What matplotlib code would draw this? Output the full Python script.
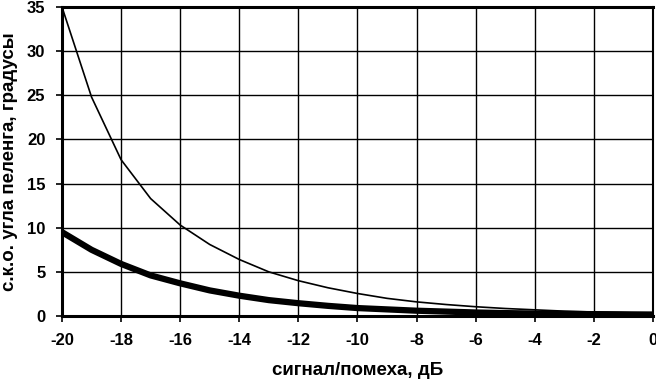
import matplotlib
matplotlib.use("Agg")
import matplotlib.pyplot as plt

plt.rcParams['font.family'] = ['Liberation Sans', 'DejaVu Sans']
plt.rcParams['font.weight'] = 'bold'
plt.rcParams['axes.unicode_minus'] = False

snr_db = [-20, -19, -18, -17, -16, -15, -14, -13, -12, -11, -10,
          -9, -8, -7, -6, -5, -4, -3, -2, -1, 0]
# thin curve
err_thin = [35.0, 24.8, 17.7, 13.3, 10.3, 8.1, 6.4, 5.0, 4.0, 3.2, 2.55,
            2.0, 1.6, 1.3, 1.05, 0.85, 0.7, 0.55, 0.45, 0.38, 0.3]
# thick curve
err_thick = [9.5, 7.5, 5.9, 4.6, 3.7, 2.9, 2.3, 1.8, 1.45, 1.15, 0.9,
             0.75, 0.6, 0.5, 0.4, 0.33, 0.28, 0.24, 0.21, 0.19, 0.17]

fig = plt.figure(figsize=(6.56, 3.8), dpi=100)
ax = fig.add_axes([0.0945, 0.1684, 0.9009, 0.8132])

ax.plot(snr_db, err_thin, color='black', lw=1.2, zorder=3)
ax.plot(snr_db, err_thick, color='black', lw=4.5, zorder=3)

ax.set_xlim(-20, 0)
ax.set_ylim(0, 35)
ax.set_xticks(range(-20, 1, 2))
ax.set_yticks(range(0, 36, 5))
ax.grid(True, color='black', lw=1.0)
ax.tick_params(direction='out', length=4, width=1.2, labelsize=12, pad=8)
for lab in ax.get_xticklabels() + ax.get_yticklabels():
    lab.set_fontweight('bold')

ax.spines['left'].set_linewidth(2.2)
ax.spines['bottom'].set_linewidth(2.2)
ax.spines['top'].set_linewidth(2.2)
ax.spines['right'].set_linewidth(1.5)

ax.set_xlabel('сигнал/помеха, дБ', fontsize=13.5, fontweight='bold', labelpad=10)
ax.set_ylabel('с.к.о. угла пеленга, градусы', fontsize=13.5, fontweight='bold', labelpad=6)

fig.savefig('out.png', dpi=100)
